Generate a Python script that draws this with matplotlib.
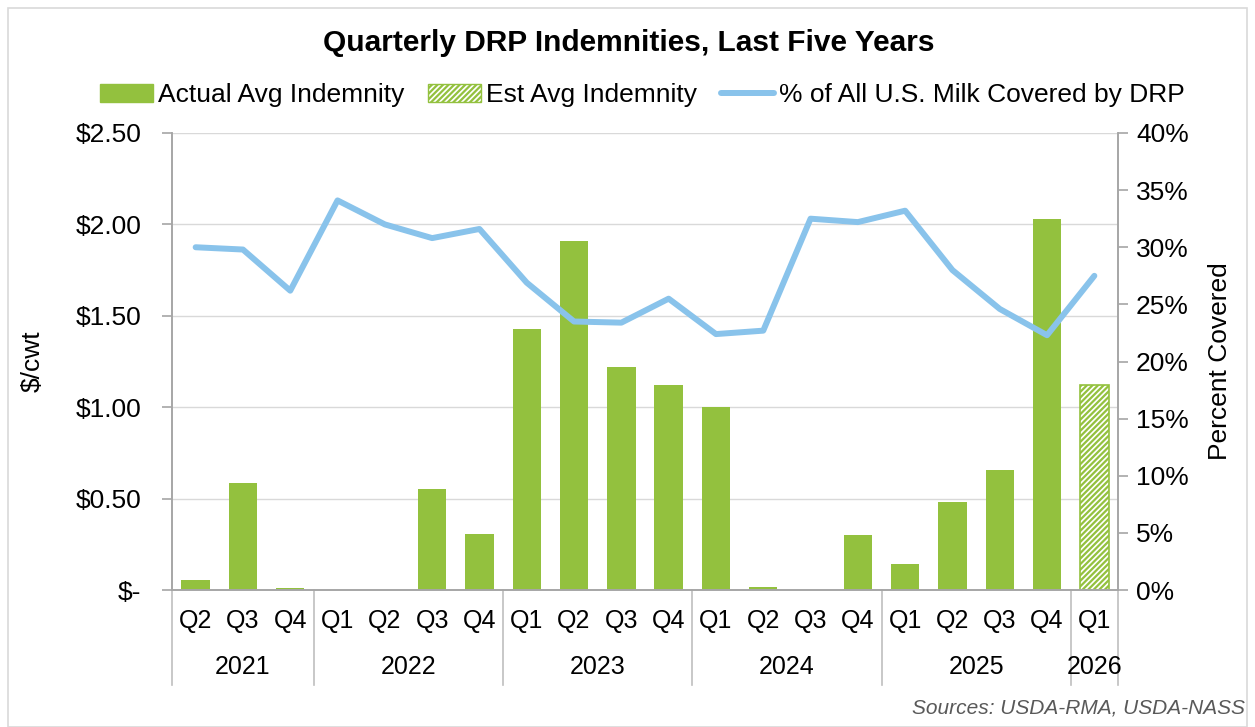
import numpy as np
import matplotlib.pyplot as plt
from matplotlib.patches import Rectangle
from matplotlib.lines import Line2D

plt.rcParams['font.family'] = ['Liberation Sans', 'DejaVu Sans']
plt.rcParams['hatch.linewidth'] = 1.6

quarters = ["Q2", "Q3", "Q4",
            "Q1", "Q2", "Q3", "Q4",
            "Q1", "Q2", "Q3", "Q4",
            "Q1", "Q2", "Q3", "Q4",
            "Q1", "Q2", "Q3", "Q4",
            "Q1"]
years = ["2021", "2022", "2023", "2024", "2025", "2026"]
quarters_per_year = [3, 4, 4, 4, 4, 1]

# $/cwt, actual indemnities (last quarter is estimated)
actual_indemnity = [0.055, 0.585, 0.01,
                    0.0, 0.0, 0.555, 0.305,
                    1.43, 1.91, 1.22, 1.12,
                    1.00, 0.015, 0.0, 0.30,
                    0.14, 0.48, 0.655, 2.03,
                    0.0]
est_indemnity = [0.0] * 19 + [1.12]

# % of all U.S. milk covered by DRP
pct_covered = [30.0, 29.8, 26.2,
               34.1, 32.0, 30.8, 31.6,
               26.9, 23.5, 23.4, 25.5,
               22.4, 22.7, 32.5, 32.2,
               33.2, 28.0, 24.6, 22.3,
               27.5]

green = "#93C13E"
blue = "#89C3EB"
axis_gray = "#A6A6A6"

fig = plt.figure(figsize=(12.55, 7.27), dpi=100)
ax = fig.add_axes([172 / 1255, 137 / 727, 946 / 1255, 457 / 727])
ax2 = ax.twinx()

x = np.arange(len(quarters))
ax.bar(x, actual_indemnity, width=0.6, color=green, zorder=2)
ax.bar(x[-1:], est_indemnity[-1:], width=0.6, color="white", edgecolor=green,
       hatch="//////", linewidth=1.2, zorder=2)
ax2.plot(x, pct_covered, color=blue, linewidth=4.3, solid_capstyle="round")

ax.set_xlim(-0.5, len(quarters) - 0.5)
ax.set_ylim(0, 2.5)
ax2.set_ylim(0, 40)

yt = np.arange(0, 2.51, 0.5)
ax.set_yticks(yt)
ax.set_yticklabels(["$-"] + ["${:.2f}".format(v) for v in yt[1:]])
ax2.set_yticks(np.arange(0, 41, 5))
ax2.set_yticklabels(["{}%".format(v) for v in range(0, 41, 5)])
ax.grid(axis="y", color="#D9D9D9", linewidth=1.0, zorder=0)
ax.set_axisbelow(True)

for a in (ax, ax2):
    a.spines["top"].set_visible(False)
    for s in ("left", "right", "bottom"):
        a.spines[s].set_color(axis_gray)
        a.spines[s].set_linewidth(1.2)
    a.tick_params(axis="y", labelsize=19, length=7, width=1.2, color=axis_gray, pad=6)
ax.set_xticks([])
ax.tick_params(axis="y", pad=15)

ax.set_ylabel("$/cwt", fontsize=19, labelpad=22)
ax2.set_ylabel("Percent Covered", fontsize=19, labelpad=14)

# two-level category axis
trans = ax.get_xaxis_transform()
for i, q in enumerate(quarters):
    ax.text(i, -0.068, q, transform=trans, ha="center", va="center", fontsize=18)
start = -0.5
bounds = [start]
for yr, n in zip(years, quarters_per_year):
    end = start + n
    ax.text((start + end) / 2, -0.168, yr, transform=trans, ha="center",
            va="center", fontsize=18)
    bounds.append(end)
    start = end
for b in bounds:
    ax.plot([b, b], [0, -0.208], transform=trans, color="#BFBFBF",
            linewidth=1.2, clip_on=False)

fig.text(0.501, 0.941, "Quarterly DRP Indemnities, Last Five Years",
         ha="center", va="center", fontsize=21.5, fontweight="bold")

handles = [Rectangle((0, 0), 1, 1, facecolor=green, edgecolor=green),
           Rectangle((0, 0), 1, 1, facecolor="white", edgecolor=green, hatch="//////"),
           Line2D([0], [0], color=blue, linewidth=4.3, solid_capstyle="round")]
labels = ["Actual Avg Indemnity", "Est Avg Indemnity", "% of All U.S. Milk Covered by DRP"]
fig.legend(handles, labels, loc="center", bbox_to_anchor=(0.512, 0.869), ncol=3,
           frameon=False, fontsize=19, handlelength=2.0, handleheight=0.65,
           handletextpad=0.2, columnspacing=0.9)

fig.text(0.992, 0.026, "Sources: USDA-RMA, USDA-NASS", ha="right", va="center",
         fontsize=15, style="italic", color="#595959")

fig.patches.append(Rectangle((8 / 1255, 0), 1 - 16 / 1255, 1 - 8 / 727,
                             transform=fig.transFigure, fill=False,
                             edgecolor="#D9D9D9", linewidth=1.2))

fig.savefig("out.png", dpi=100)
